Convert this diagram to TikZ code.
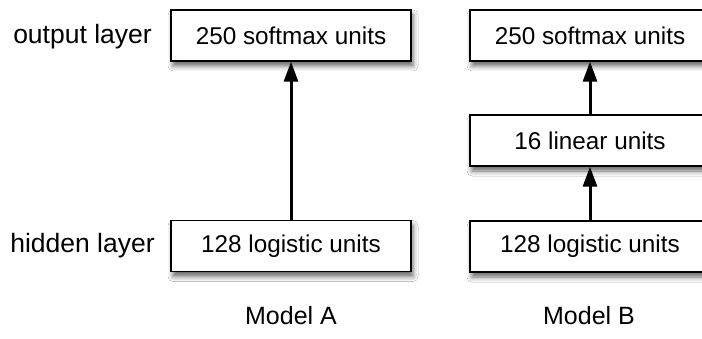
\documentclass[tikz,border=0pt]{standalone}
\usepackage{fontspec}
\setmainfont{Liberation Sans}
\usetikzlibrary{arrows.meta,shadows.blur}
\begin{document}
\begin{tikzpicture}[x=1pt,y=-1pt,
  unitbox/.style={draw=black, line width=1.4pt, fill=white, minimum width=240pt, minimum height=51pt, inner sep=0pt,
    font=\fontsize{24.3}{28}\selectfont,
    blur shadow={shadow xshift=2pt, shadow yshift=-5pt, shadow blur radius=5pt, shadow opacity=60}},
  lbl/.style={inner sep=0pt, font=\fontsize{26.5}{30}\selectfont},
  mlbl/.style={inner sep=0pt, font=\fontsize{25}{30}\selectfont},
  conn/.style={line width=3pt, -{Triangle[width=14pt,length=20pt]}}]
\useasboundingbox (0,0) rectangle (702,339);
\clip (0,0) rectangle (702,339);
\fill[white] (0,0) rectangle (702,339);
\node[unitbox] (a2) at (291,35.5) {250 softmax units};
\node[unitbox] (a1) at (291,246) {128 logistic units};
\node[unitbox] (b3) at (590,35.5) {250 softmax units};
\node[unitbox] (b2) at (590,140.5) {16 linear units};
\node[unitbox] (b1) at (590,246.5) {128 logistic units};
\node[lbl] (out) at (82.5,37) {output layer};
\node[lbl] (hid) at (82.5,246) {hidden layer};
\node[mlbl] (ma) at (291,316) {Model A};
\node[mlbl] (mb) at (589,316) {Model B};
\draw[conn] (a1.north) -- (a2.south);
\draw[conn] (b1.north) -- (b2.south);
\draw[conn] (b2.north) -- (b3.south);
\end{tikzpicture}
\end{document}
